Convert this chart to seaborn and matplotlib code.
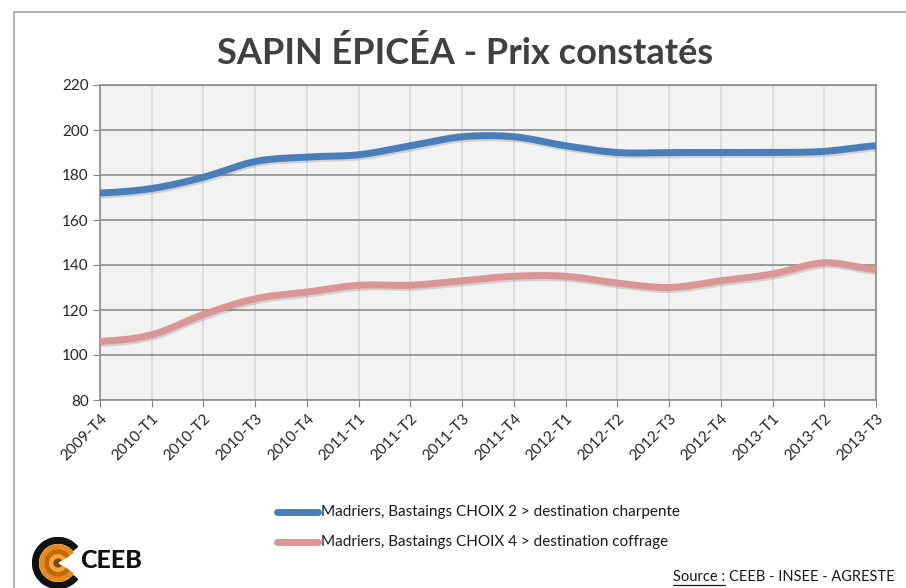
import numpy as np
import pandas as pd
import matplotlib
matplotlib.use("Agg")
import matplotlib.pyplot as plt
import matplotlib.patheffects as pe
from matplotlib.patches import Rectangle, Wedge
import seaborn as sns

quarters = ['2009-T4', '2010-T1', '2010-T2', '2010-T3', '2010-T4', '2011-T1',
            '2011-T2', '2011-T3', '2011-T4', '2012-T1', '2012-T2', '2012-T3',
            '2012-T4', '2013-T1', '2013-T2', '2013-T3']
choix2 = [172, 174, 179, 186, 188, 189, 193, 197, 197, 193, 190, 190, 190, 190, 190.5, 193]
choix4 = [106, 109, 118, 125, 128, 131, 131, 133, 135, 135, 132, 130, 133, 136, 141, 138]
series_names = ['Madriers, Bastaings CHOIX 2 > destination charpente',
                'Madriers, Bastaings CHOIX 4 > destination coffrage']
colors = ['#4A7EBB', '#D99694']


def smooth(y, steps=20):
  """
    Catmull-Rom curve through the points, like Excel's smoothed line
  """
  y = np.asarray(y, dtype=float)
  p = np.concatenate([[y[0]], y, [y[-1]]])
  xs, ys = [], []
  for i in range(len(y) - 1):
    p0, p1, p2, p3 = p[i], p[i + 1], p[i + 2], p[i + 3]
    t = np.linspace(0, 1, steps, endpoint=False)
    ys.append(0.5 * (2 * p1 + (-p0 + p2) * t + (2 * p0 - 5 * p1 + 4 * p2 - p3) * t ** 2
                     + (-p0 + 3 * p1 - 3 * p2 + p3) * t ** 3))
    xs.append(i + t)
  xs.append([len(y) - 1])
  ys.append([y[-1]])
  return np.concatenate(xs), np.concatenate(ys)


frames = []
for name, vals in zip(series_names, [choix2, choix4]):
  sx, sy = smooth(vals)
  frames.append(pd.DataFrame({'x': sx, 'prix': sy, 'serie': name}))
df = pd.concat(frames, ignore_index=True)

sns.set_style('white')
plt.rcParams['font.family'] = ['Lato', 'DejaVu Sans']

fig = plt.figure(figsize=(9.06, 5.88), dpi=100)
fig.patch.set_facecolor('white')

# outer chart frame
fig.patches.append(Rectangle((14 / 906, -0.05), 1.0, 1.05 - 12 / 588, transform=fig.transFigure,
                             fill=False, edgecolor='#A6A6A6', lw=1.2, zorder=0))

ax = fig.add_axes([100 / 906, 1 - 400 / 588, 776 / 906, 315 / 588])
ax.set_facecolor('#F2F2F2')

shadow = [pe.SimpleLineShadow(offset=(1, -1.5), shadow_color='#444444', alpha=0.18), pe.Normal()]
sns.lineplot(data=df, x='x', y='prix', hue='serie', palette=colors, lw=5,
             ax=ax, legend=False, zorder=3)
for line in ax.get_lines():
  line.set_path_effects(shadow)
  line.set_solid_capstyle('butt')

ax.set_xlim(0, len(quarters) - 1)
ax.set_ylim(80, 220)
ax.set_yticks(range(80, 221, 20))
ax.set_xticks(range(len(quarters)))
ax.set_xticklabels(quarters, rotation=45, ha='right', rotation_mode='anchor', fontsize=11)
ax.tick_params(axis='y', labelsize=11, length=5, color='#868686', direction='out', pad=3, left=True)
ax.tick_params(axis='x', length=5, color='#868686', direction='out', pad=3, bottom=True)
ax.set_xlabel('')
ax.set_ylabel('')

ax.grid(axis='y', color='#8C8C8C', lw=1.2, zorder=1)
ax.grid(axis='x', color='#D9D9D9', lw=1.2, zorder=1)
ax.set_axisbelow(True)
for s in ax.spines.values():
  s.set_color('#8C8C8C')
  s.set_linewidth(1.2)

fig.text(465 / 906, 1 - 53 / 588, 'SAPIN ÉPICÉA - Prix constatés', ha='center', va='center',
         fontsize=26, fontweight='bold', color='#404040')

# legend
for i, (name, c) in enumerate(zip(series_names, colors)):
  yy = 1 - (512 + i * 30) / 588
  fig.add_artist(plt.Line2D([277 / 906, 318 / 906], [yy, yy], transform=fig.transFigure,
                            color=c, lw=5, solid_capstyle='round'))
  fig.text(321 / 906, yy, name, ha='left', va='center', fontsize=11, color='#1A1A1A')

# source
src_label = fig.text(673 / 906, 1 - 577 / 588, 'Source :', ha='left', va='center',
                     fontsize=10.5, color='#1A1A1A')
fig.canvas.draw()
bb = src_label.get_window_extent().transformed(fig.transFigure.inverted())
fig.add_artist(plt.Line2D([bb.x0, bb.x1], [bb.y0 - 0.002, bb.y0 - 0.002],
                          transform=fig.transFigure, color='#1A1A1A', lw=0.9))
fig.text(bb.x1 + 4 / 906, 1 - 577 / 588, 'CEEB - INSEE - AGRESTE', ha='left', va='center',
         fontsize=10.5, color='#1A1A1A')

# CEEB logo
lax = fig.add_axes([32 / 906, -4 / 588, 52 / 906, 58 / 588])
lax.set_xlim(-1, 1)
lax.set_ylim(-1, 1)
lax.set_aspect('equal')
lax.axis('off')
lax.add_patch(Wedge((0, 0), 0.98, 40, 320, width=0.22, color='#111111'))
for r, c in [(0.7, '#E8891C'), (0.5, '#C06A10'), (0.32, '#F2A33A'), (0.15, '#7A4A10')]:
  lax.add_patch(Wedge((0, 0), r, 35, 325, color=c))
lax.add_patch(Wedge((0.05, 0), 0.75, -30, 30, color='white'))
fig.text(80 / 906, 1 - 561 / 588, 'CEEB', ha='left', va='center', fontsize=18,
         fontweight='black', color='#111111')

fig.savefig('out.png', dpi=100)
